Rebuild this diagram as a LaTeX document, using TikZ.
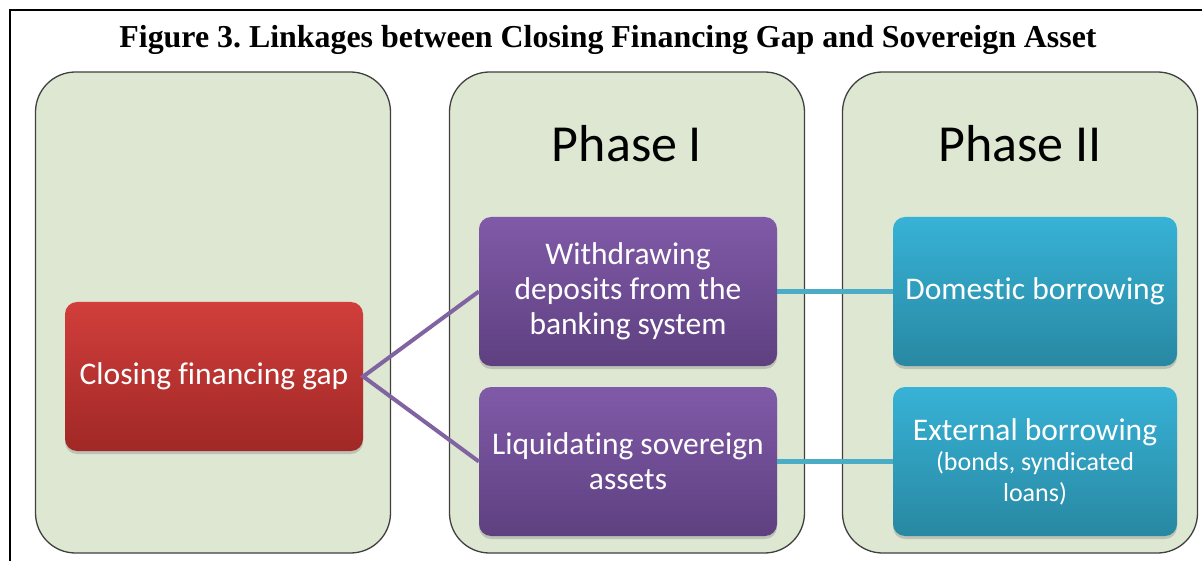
\documentclass[tikz,border=0pt]{standalone}
\usepackage{fontspec}
\setmainfont{Carlito}[Ligatures=NoCommon]
\newfontfamily\titlefont{Liberation Serif}
\usetikzlibrary{shadows}

\definecolor{panelgreen}{RGB}{221,231,209}
\definecolor{panelline}{RGB}{64,64,64}
\definecolor{redtop}{RGB}{209,62,59}
\definecolor{redbot}{RGB}{160,40,38}
\definecolor{purtop}{RGB}{128,90,168}
\definecolor{purbot}{RGB}{94,64,128}
\definecolor{bluetop}{RGB}{55,178,214}
\definecolor{bluebot}{RGB}{40,136,162}
\definecolor{purline}{RGB}{128,100,162}
\definecolor{tealline}{RGB}{75,172,198}

\newcommand{\smalltext}{\fontsize{26}{29}\selectfont}
\frenchspacing

\tikzset{
  panel/.style={draw=panelline, line width=1.3pt, fill=panelgreen, rounded corners=40pt,
    minimum width=355pt, minimum height=481pt},
  phaselabel/.style={font=\fontsize{52}{60}\selectfont},
  box/.style={rounded corners=12pt, text=white, align=center, inner sep=0pt,
    minimum width=298pt, minimum height=149pt,
    font=\fontsize{31.5}{35}\selectfont,
    drop shadow={opacity=0.35, shadow xshift=0pt, shadow yshift=-3pt}},
  redbox/.style={box, top color=redtop, bottom color=redbot},
  purbox/.style={box, top color=purtop, bottom color=purbot},
  bluebox/.style={box, top color=bluetop, bottom color=bluebot, minimum width=284pt},
}

\begin{document}
\begin{tikzpicture}[x=1pt, y=-1pt]
\useasboundingbox (0,0) rectangle (1202,561);

% Frame (top and left edge only)
\draw[line width=2pt] (1202,10) -- (10,10) -- (10,561);

% Title
\node[anchor=base, font=\titlefont\bfseries\fontsize{31.9}{36}\selectfont] (title) at (608,48)
  {Figure 3. Linkages between Closing Financing Gap and Sovereign Asset};

% Panels
\foreach \name/\cx in {start/213, phaseone/627, phasetwo/1020} {
  \node[panel] (\name) at (\cx,312.5) {};
}
\node[phaselabel] (labelone) at (627,144) {Phase I};
\node[phaselabel] (labeltwo) at (1020,144) {Phase II};

% Boxes
\node[redbox] (gap) at (214,376.5) {Closing financing gap};
\node[purbox] (withdraw) at (628,291.5) {Withdrawing\\deposits from the\\banking system};
\node[purbox] (liquid) at (628,461.5) {Liquidating sovereign\\assets};
\node[bluebox] (domestic) at (1035,291.5) {Domestic borrowing};
\node[bluebox] (external) at (1035,461.5)
  {External borrowing\\[-5pt]\smalltext (bonds, syndicated\\[-4pt]\smalltext loans)};

% Connectors
\draw[purline, line width=4pt, line join=miter] (withdraw.west) -- (gap.east) -- (liquid.west);
\draw[tealline, line width=5pt] (withdraw.east) -- (domestic.west);
\draw[tealline, line width=5pt] (liquid.east) -- (external.west);

\end{tikzpicture}
\end{document}
